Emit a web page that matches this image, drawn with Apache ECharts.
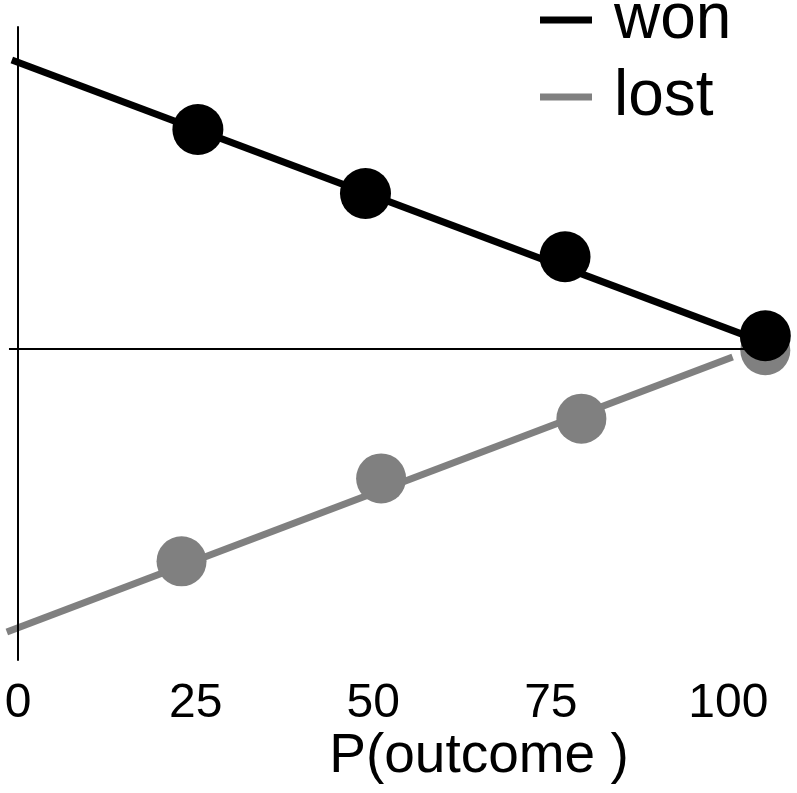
<!DOCTYPE html>
<html>
<head>
<meta charset="utf-8">
<script src="https://cdn.jsdelivr.net/npm/echarts@6/dist/echarts.min.js"></script>
<style>
html,body{margin:0;padding:0;background:#fff;}
#chart{width:797px;height:793px;}
</style>
</head>
<body>
<div id="chart"></div>
<script>
// ---- data ----
var seriesNames = ['won', 'lost'];
var xTickValues = [0, 25, 50, 75, 100];
var xAxisTitle = 'P(outcome )';
// trend lines (start / end points)
var wonLine  = [[-0.9, 89.7], [105.2, 1.7]];
var lostLine = [[-1.6, -88.3], [100.6, -2.7]];
// markers
var wonPoints  = [[25.3, 68.1], [48.9, 48.2], [77.0, 28.5], [105.2, 3.9]];
var lostPoints = [[23.0, -66.3], [51.1, -40.5], [79.3, -21.9], [105.2, -0.6]];
// zero reference line extent
var zeroLine = [[-1.3, 0], [104, 0]];

var FONT = "'Liberation Sans', Arial, sans-serif";
var BLACK = '#000000';
var GRAY = '#808080';

var chart = echarts.init(document.getElementById('chart'), null, {renderer: 'canvas'});
chart.setOption({
  animation: false,
  backgroundColor: '#ffffff',
  grid: {left: 4, right: 26, top: 27, bottom: 133, containLabel: false},
  xAxis: {
    type: 'value', min: -2, max: 106,
    axisLine: {show: false, onZero: false},
    axisTick: {show: false},
    splitLine: {show: false},
    axisLabel: {
      show: true, customValues: xTickValues, margin: 20,
      fontSize: 48, color: '#000', fontFamily: FONT
    }
  },
  yAxis: {
    type: 'value', min: -97, max: 100, z: 10,
    axisLine: {show: true, onZero: true, lineStyle: {color: '#000', width: 2}},
    axisTick: {show: false},
    axisLabel: {show: false},
    splitLine: {show: false}
  },
  legend: {
    data: seriesNames,
    orient: 'vertical',
    left: 535, top: -17,
    icon: 'rect',
    itemWidth: 52, itemHeight: 7, itemGap: 13,
    textStyle: {fontSize: 64, lineHeight: 50, color: '#000', fontFamily: FONT, padding: [0, 0, 0, 17]}
  },
  graphic: [{
    type: 'text',
    style: {
      text: xAxisTitle, x: 479, y: 757,
      textAlign: 'center', textVerticalAlign: 'middle',
      fontSize: 55, fontFamily: FONT, fill: '#000'
    }
  }],
  series: [
    {
      name: seriesNames[1], type: 'line', data: lostLine, symbol: 'none', z: 2,
      lineStyle: {color: GRAY, width: 7}, itemStyle: {color: GRAY},
      markLine: {
        silent: true, symbol: 'none', label: {show: false},
        lineStyle: {color: '#000', width: 2, type: 'solid'},
        data: [[{coord: zeroLine[0]}, {coord: zeroLine[1]}]]
      }
    },
    {
      name: seriesNames[1], type: 'scatter', data: lostPoints, symbol: 'circle',
      symbolSize: 50, clip: false, z: 3, itemStyle: {color: GRAY, opacity: 1}
    },
    {
      name: seriesNames[0], type: 'line', data: wonLine, symbol: 'none', z: 4,
      lineStyle: {color: BLACK, width: 7}, itemStyle: {color: BLACK}
    },
    {
      name: seriesNames[0], type: 'scatter', data: wonPoints, symbol: 'circle',
      symbolSize: 51, clip: false, z: 5, itemStyle: {color: BLACK, opacity: 1}
    }
  ]
});
</script>
</body>
</html>
